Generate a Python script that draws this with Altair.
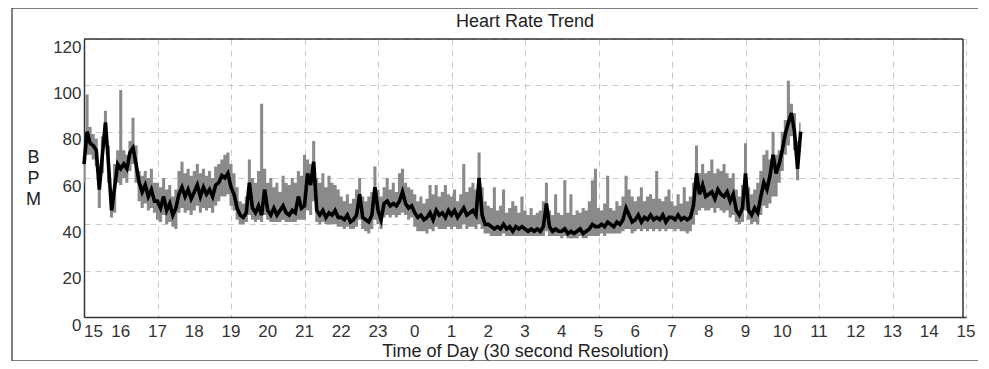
import altair as alt
import pandas as pd

TITLE = "Heart Rate Trend"
X_TITLE = "Time of Day (30 second Resolution)"
Y_TITLE = ["B", "P", "M"]
START_HOUR = 15
STEP_MIN = 5
HOUR_TICKS = list(range(0, 1441, 60))
HOUR_LABELS = ["15", "16", "17", "18", "19", "20", "21", "22", "23", "0", "1", "2", "3",
               "4", "5", "6", "7", "8", "9", "10", "11", "12", "13", "14", "15"]
BPM_TICKS = [0, 20, 40, 60, 80, 100, 120]

# one row per hour (5-minute samples), starting 15:00
MEAN_BPM = [
    [66, 80, 75, 74, 72, 55, 70, 84, 66, 46, 56, 66],
    [64, 66, 64, 71, 73, 66, 58, 54, 57, 52, 55, 50],
    [50, 47, 52, 46, 49, 44, 47, 53, 56, 52, 55, 51],
    [54, 57, 52, 56, 53, 55, 52, 57, 58, 61, 60, 62],
    [56, 53, 47, 44, 43, 45, 58, 47, 45, 48, 44, 55],
    [46, 44, 47, 44, 46, 48, 45, 44, 46, 45, 52, 47],
    [48, 62, 57, 67, 46, 44, 46, 43, 45, 44, 46, 43],
    [43, 42, 44, 41, 42, 44, 53, 43, 42, 41, 44, 56],
    [46, 42, 49, 50, 48, 49, 48, 50, 54, 49, 47, 48],
    [45, 43, 44, 42, 43, 45, 42, 46, 44, 45, 43, 46],
    [44, 46, 43, 45, 47, 44, 45, 46, 44, 60, 44, 40],
    [40, 39, 38, 39, 38, 40, 38, 39, 37, 39, 38, 39],
    [38, 37, 38, 37, 38, 37, 39, 49, 39, 37, 38, 37],
    [37, 38, 36, 37, 36, 37, 38, 36, 37, 38, 40, 39],
    [39, 40, 39, 41, 40, 39, 41, 40, 42, 47, 44, 41],
    [42, 44, 41, 43, 42, 44, 42, 43, 42, 44, 41, 43],
    [43, 42, 44, 42, 43, 42, 43, 48, 62, 53, 57, 52],
    [53, 54, 51, 55, 53, 52, 54, 50, 53, 46, 44, 47],
    [62, 46, 44, 47, 45, 52, 58, 55, 61, 70, 62, 66],
    [72, 79, 84, 88, 80, 64, 80],
]

LOW_BPM = [
    [58, 70, 70, 68, 65, 47, 62, 75, 58, 43, 45, 58],
    [57, 60, 58, 63, 66, 58, 50, 47, 49, 46, 47, 45],
    [42, 41, 44, 40, 41, 39, 38, 45, 47, 45, 46, 44],
    [46, 48, 45, 47, 46, 47, 45, 48, 50, 52, 52, 53],
    [48, 46, 42, 40, 40, 41, 44, 42, 41, 42, 41, 44],
    [42, 41, 41, 41, 41, 42, 41, 41, 41, 41, 42, 42],
    [42, 46, 44, 50, 41, 40, 41, 40, 40, 40, 40, 39],
    [39, 38, 39, 38, 38, 39, 42, 38, 37, 36, 38, 42],
    [40, 38, 43, 44, 43, 44, 43, 44, 45, 44, 42, 43],
    [39, 37, 37, 37, 36, 38, 37, 39, 38, 38, 38, 39],
    [38, 39, 38, 38, 40, 38, 39, 39, 38, 40, 38, 36],
    [36, 35, 35, 35, 35, 36, 35, 35, 35, 35, 35, 35],
    [35, 35, 35, 35, 35, 35, 35, 37, 35, 35, 35, 35],
    [34, 35, 34, 34, 34, 34, 35, 34, 34, 35, 35, 35],
    [35, 36, 35, 36, 36, 36, 36, 36, 37, 38, 38, 36],
    [37, 38, 37, 38, 37, 38, 37, 38, 37, 38, 37, 38],
    [38, 37, 38, 37, 37, 36, 37, 40, 44, 46, 47, 46],
    [46, 47, 45, 47, 46, 45, 46, 43, 44, 41, 40, 41],
    [46, 42, 40, 41, 40, 44, 48, 47, 49, 52, 52, 58],
    [63, 70, 74, 78, 72, 59, 74],
]

HIGH_BPM = [
    [75, 96, 82, 79, 77, 62, 78, 89, 74, 52, 66, 72],
    [98, 72, 70, 76, 86, 74, 63, 61, 63, 60, 64, 58],
    [58, 56, 60, 55, 57, 52, 55, 63, 67, 62, 64, 61],
    [63, 66, 62, 64, 61, 63, 60, 65, 66, 68, 70, 71],
    [66, 62, 56, 50, 49, 52, 68, 60, 58, 63, 92, 64],
    [58, 60, 56, 58, 54, 61, 58, 57, 60, 58, 63, 61],
    [70, 68, 66, 76, 60, 58, 62, 56, 61, 58, 57, 55],
    [52, 50, 53, 49, 51, 55, 60, 52, 50, 52, 54, 65],
    [55, 52, 56, 60, 55, 58, 54, 62, 64, 58, 56, 55],
    [53, 50, 52, 49, 51, 57, 53, 57, 52, 54, 57, 53],
    [52, 55, 50, 53, 66, 54, 56, 58, 55, 71, 56, 50],
    [48, 47, 56, 46, 48, 55, 45, 47, 50, 48, 45, 52],
    [46, 44, 47, 44, 45, 46, 50, 58, 46, 44, 53, 45],
    [44, 59, 45, 53, 44, 46, 45, 47, 46, 50, 59, 64],
    [47, 46, 49, 61, 47, 46, 50, 48, 52, 61, 55, 52],
    [50, 52, 56, 50, 52, 53, 51, 63, 51, 50, 52, 55],
    [50, 48, 53, 49, 56, 50, 52, 58, 74, 62, 66, 62],
    [63, 68, 62, 64, 63, 66, 62, 60, 62, 55, 52, 57],
    [75, 56, 53, 55, 58, 63, 70, 72, 68, 80, 70, 72],
    [80, 85, 102, 92, 88, 76, 84],
]

mean = [v for row in MEAN_BPM for v in row]
low = [v for row in LOW_BPM for v in row]
high = [v for row in HIGH_BPM for v in row]
df = pd.DataFrame({
    "minute": [i * STEP_MIN for i in range(len(mean))],
    "mean": mean,
    "low": low,
    "high": high,
})
ticks_df = pd.DataFrame({"minute": HOUR_TICKS, "label": HOUR_LABELS})

FONT = "Liberation Sans"
W, H = 882, 278

x_scale = alt.Scale(domain=[0, 1440], nice=False, zero=False)
x_enc = alt.X(
    "minute:Q",
    scale=x_scale,
    axis=alt.Axis(
        values=HOUR_TICKS,
        labels=False,
        title=X_TITLE,
        titleFontSize=18,
        titlePadding=25,
        ticks=False,
    ),
)

y_scale = alt.Scale(domain=[0, 120], nice=False, zero=True)

band = alt.Chart(df).mark_area(color="#8a8a8a", interpolate="step", opacity=1).encode(
    x=x_enc,
    y=alt.Y(
        "low:Q",
        scale=y_scale,
        axis=alt.Axis(
            values=BPM_TICKS,
            title=Y_TITLE,
            titleAngle=0,
            titleAlign="center",
            titleBaseline="middle",
            titleX=-51,
            titleY=118,
            titleLineHeight=21,
            titleFontSize=18,
            labelFontSize=17,
            labelPadding=3,
            labelBaseline="top",
            ticks=False,
        ),
    ),
    y2="high:Q",
)

line = alt.Chart(df).mark_line(color="#000000", strokeWidth=3.6, strokeJoin="miter").encode(
    x="minute:Q",
    y="mean:Q",
)

x_labels = alt.Chart(ticks_df).mark_text(
    font=FONT, fontSize=17, color="#333333", baseline="top",
    align=alt.ExprRef(expr="datum.minute == 0 ? 'left' : 'center'"),
).encode(
    x=alt.X("minute:Q", scale=x_scale),
    y=alt.value(H + 7),
    text="label:N",
)

deco = alt.Chart(pd.DataFrame({"k": [0]}))

frame = deco.mark_rect(filled=False, stroke="#555555", strokeWidth=1.5).encode(
    x=alt.value(-72), x2=alt.value(899), y=alt.value(-31), y2=alt.value(322)
)
top_edge = deco.mark_rule(color="#333333", strokeWidth=1.5).encode(
    x=alt.value(0), x2=alt.value(879), y=alt.value(0)
)
right_edge = deco.mark_rule(color="#333333", strokeWidth=1.5).encode(
    x=alt.value(879), y=alt.value(0), y2=alt.value(H)
)
title = deco.mark_text(
    text=TITLE, font=FONT, fontSize=18, color="#222222", align="center", baseline="middle"
).encode(x=alt.value(W / 2), y=alt.value(-17))

chart = (
    alt.layer(band, line, top_edge, right_edge, frame, title, x_labels)
    .properties(
        width=W,
        height=H,
        autosize=alt.AutoSizeParams(type="none"),
        padding={"left": 76, "top": 31, "right": 12, "bottom": 44},
    )
    .configure(background="white")
    .configure_view(stroke=None)
    .configure_axis(
        labelFont=FONT,
        titleFont=FONT,
        labelColor="#333333",
        titleColor="#222222",
        titleFontWeight="normal",
        domainColor="#333333",
        domainWidth=1.5,
        grid=True,
        gridColor="#c8c8c8",
        gridDash=[6, 5],
        gridWidth=1,
    )
)

chart.save("out.html", embed_options={"renderer": "svg", "actions": False})
